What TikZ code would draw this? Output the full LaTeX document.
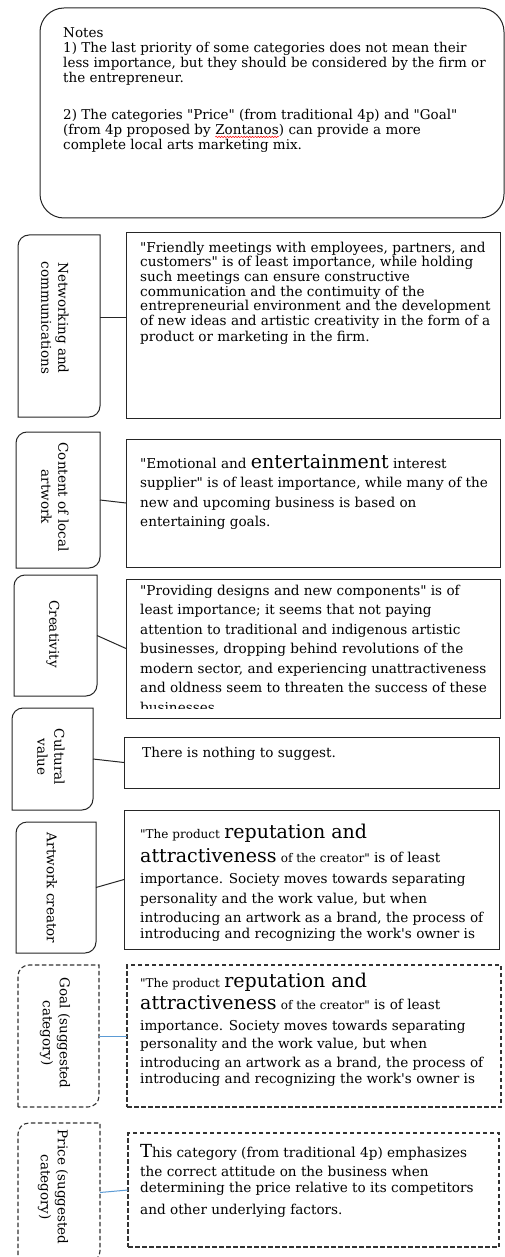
\documentclass[tikz,border=0pt]{standalone}
\usepackage{fontspec}
\setmainfont{DejaVu Serif}[Ligatures=TeXOff]
\usetikzlibrary{calc,decorations.pathmorphing}
\definecolor{connblue}{RGB}{91,155,213}
\newcommand\spellerr[1]{\tikz[baseline=(sp.base)]{\node[inner sep=0pt,outer sep=0pt] (sp) {#1};
  \draw[red, line width=0.5pt, decorate, decoration={snake, amplitude=0.7pt, segment length=2.8pt}] ([yshift=-2.4pt]sp.base west) -- ([yshift=-2.4pt]sp.base east);}}
\newcommand\bigw[1]{{\fontsize{19}{20}\selectfont #1}}
\newcommand\smw[1]{{\fontsize{12}{13}\selectfont #1}}
\newcommand\diagborder[2]{%
  \draw[#1] (#2.south west) -- ([yshift=-11pt]#2.north west)
    arc[start angle=180,end angle=90,radius=11pt] -- (#2.north east)
    -- ([yshift=11pt]#2.south east)
    arc[start angle=0,end angle=-90,radius=11pt] -- cycle;}
\begin{document}
\begin{tikzpicture}[x=1pt,y=1pt,
  frame/.style={line width=1pt, draw=black!85},
  dashframe/.style={line width=1.1pt, draw=black!80, dash pattern=on 4.5pt off 2.5pt},
  place/.style={anchor=north west, inner sep=0pt, outer sep=0pt},
  rbox/.style={place, frame},
  rdbox/.style={place, dashframe},
  body/.style={anchor=north west, align=left, inner sep=0pt, font=\fontsize{13.6}{19.5}\selectfont},
  tight/.style={font=\fontsize{13.6}{14.7}\selectfont},
  lab/.style={rotate=-90, align=center, inner sep=0pt, font=\fontsize{13.5}{17}\selectfont},
  conn/.style={line width=1pt, draw=black!85},
  bconn/.style={line width=1pt, draw=connblue}]
\clip (0,0) rectangle (505,-1257);
\fill[white] (0,0) rectangle (505,-1257);

% Notes
\node[place, frame, rounded corners=24pt, minimum width=464pt, minimum height=210pt] (notes) at (40,-8) {};
\node[body, font=\fontsize{13.5}{15}\selectfont] (notestext) at (63,-27.5) {Notes\\
1) The last priority of some categories does not mean their\\
less importance, but they should be considered by the firm or\\
the entrepreneur.\\[22pt]
2) The categories "Price" (from traditional 4p) and "Goal"\\
(from 4p proposed by \spellerr{Zontanos}) can provide a more\\
complete local arts marketing mix.};

% 1 Networking
\node[place, minimum width=82pt, minimum height=182pt] (l1) at (18,-235) {};
\diagborder{frame}{l1}
\node[lab] (k1) at (55,-318) {Networking and\\communications};
\node[rbox, minimum width=374pt, minimum height=185pt] (r1) at (126,-233) {};
\node[body, tight] (t1) at (140,-241.5) {"Friendly meetings with employees, partners, and\\
customers" is of least importance, while holding\\
such meetings can ensure constructive\\
communication and the contimuity of the\\
entrepreneurial environment and the development\\
of new ideas and artistic creativity in the form of a\\[1.5pt]
product or marketing in the firm.};
\draw[conn] ([yshift=9pt]l1.east) -- ([yshift=8.5pt]r1.west);

% 2 Content
\node[place, minimum width=84pt, minimum height=136pt] (l2) at (16,-432) {};
\diagborder{frame}{l2}
\node[lab] (k2) at (55,-497) {Content of local\\artwork};
\node[rbox, minimum width=374pt, minimum height=128pt] (r2) at (126,-439) {};
\node[body] (t2) at (140,-454) {"Emotional and {\fontsize{19}{20}\selectfont entertainment} interest\\
supplier" is of least importance, while many of the\\
new and upcoming business is based on\\
entertaining goals.};
\draw[conn] (l2.east) -- (r2.west);

% 3 Creativity
\node[place, minimum width=83pt, minimum height=121pt] (l3) at (14,-575) {};
\diagborder{frame}{l3}
\node[lab] (k3) at (53,-634) {Creativity};
\node[rbox, minimum width=374pt, minimum height=139pt] (r3) at (126,-579) {};
\begin{scope}
\clip (127,-708) rectangle (499,-580);
\node[body] (t3) at (140,-584.5) {"Providing designs and new components" is of\\
least importance; it seems that not paying\\
attention to traditional and indigenous artistic\\
businesses, dropping behind revolutions of the\\
modern sector, and experiencing unattractiveness\\
and oldness seem to threaten the success of these\\
businesses.};
\end{scope}
\draw[conn] (l3.east) -- (r3.west);

% 4 Cultural value
\node[place, minimum width=81pt, minimum height=102pt] (l4) at (12,-708) {};
\diagborder{frame}{l4}
\node[lab] (k4) at (51,-757) {Cultural\\value};
\node[rbox, minimum width=375pt, minimum height=51pt] (r4) at (124,-737) {};
\node[body] (t4) at (142,-746.5) {There is nothing to suggest.};
\draw[conn] (l4.east) -- (r4.west);

% 5 Artwork creator
\node[place, minimum width=80pt, minimum height=131pt] (l5) at (16,-822) {};
\diagborder{frame}{l5}
\node[lab] (k5) at (52,-888) {Artwork creator};
\node[rbox, minimum width=375pt, minimum height=139pt] (r5) at (124,-810) {};
\node[body] (t5) at (140,-823.5) {\smw{"The product} \bigw{reputation and}\\[5pt]
\bigw{attractiveness} \smw{of the creator"} is of least\\[1pt]
importance. Society moves towards separating\\[1pt]
personality and the work value, but when\\[-1pt]
introducing an artwork as a brand, the process of\\[-3pt]
introducing and recognizing the work's owner is};
\draw[conn] (l5.east) -- (r5.west);

% 6 Goal (suggested)
\node[place, minimum width=81pt, minimum height=142pt] (l6) at (18,-965) {};
\diagborder{dashframe}{l6}
\node[lab] (k6) at (55,-1033) {Goal (suggested\\category)};
\node[rdbox, minimum width=374pt, minimum height=142pt] (r6) at (127,-965) {};
\node[body] (t6) at (140,-972.6) {\smw{"The product} \bigw{reputation and}\\[3pt]
\bigw{attractiveness} \smw{of the creator"} is of least\\[1pt]
importance. Society moves towards separating\\[-1.5pt]
personality and the work value, but when\\[-0.5pt]
introducing an artwork as a brand, the process of\\[-3.5pt]
introducing and recognizing the work's owner is};
\draw[bconn] (l6.east) -- (r6.west);

% 7 Price (suggested)
\node[place, minimum width=82pt, minimum height=139pt] (l7) at (18,-1123) {};
\diagborder{dashframe}{l7}
\node[lab] (k7) at (53,-1187) {Price (suggested\\category)};
\node[rdbox, minimum width=371pt, minimum height=114pt] (r7) at (128,-1133) {};
\node[body] (t7) at (140,-1144.5) {{\fontsize{18}{19}\selectfont T}his category (from traditional 4p) emphasizes\\[-1pt]
the correct attitude on the business when\\[-3pt]
determining the price relative to its competitors\\[2pt]
and other underlying factors.};
\draw[bconn] (l7.east) -- (r7.west);
\end{tikzpicture}
\end{document}
